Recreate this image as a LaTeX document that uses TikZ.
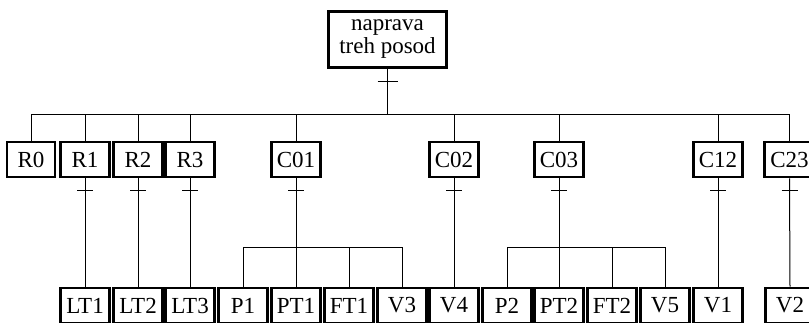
\documentclass[tikz,border=0pt]{standalone}
\usepackage{fontspec}
\setmainfont{Liberation Serif}
\begin{document}
\begin{tikzpicture}[x=1pt,y=-1pt,
  box/.style={draw,line width=2.6pt,rectangle,inner sep=0pt,minimum width=49.5pt,minimum height=35pt,font=\fontsize{23}{25}\selectfont},
  topbox/.style={box,minimum width=118pt,minimum height=56pt,align=center},
  conn/.style={line width=1pt},
  tick/.style={line width=1pt}]
\useasboundingbox (0,0) rectangle (809,322);
% top
\node[topbox] (top) at (387.5,39.5) {naprava\\[-2pt]treh posod};
% second row
\node[box,minimum width=48pt] (R0) at (31,159.5) {R0};
\node[box] (R1) at (85,159.5) {R1};
\node[box] (R2) at (138,159.5) {R2};
\node[box] (R3) at (190,159.5) {R3};
\node[box] (C01) at (296,159.5) {C01};
\node[box] (C02) at (454,159.5) {C02};
\node[box] (C03) at (559,159.5) {C03};
\node[box] (C12) at (718,159.5) {C12};
\node[box] (C23) at (789.5,159.5) {C23};
% bottom row
\node[box] (LT1) at (85,305.5) {LT1};
\node[box] (LT2) at (138,305.5) {LT2};
\node[box] (LT3) at (190,305.5) {LT3};
\node[box] (P1) at (243,305.5) {P1};
\node[box] (PT1) at (296,305.5) {PT1};
\node[box] (FT1) at (349,305.5) {FT1};
\node[box] (V3) at (402,305.5) {V3};
\node[box] (V4) at (454,305.5) {V4};
\node[box] (P2) at (507,305.5) {P2};
\node[box] (PT2) at (559,305.5) {PT2};
\node[box] (FT2) at (612,305.5) {FT2};
\node[box] (V5) at (665,305.5) {V5};
\node[box] (V1) at (718,305.5) {V1};
\node[box] (V2) at (790,305.5) {V2};
% buses
\coordinate (bus) at (0,114);
\coordinate (sb) at (0,247);
\draw[conn] (top.south) -- (top.south |- bus);
\draw[tick] ([xshift=-10pt,yshift=-13pt]top.south) -- ([xshift=10pt,yshift=-13pt]top.south);
\draw[conn] (R0.north) -- (R0.north |- bus) -- (C23.north |- bus) -- (C23.north);
\foreach \n in {R1,R2,R3,C01,C02,C03,C12}{
  \draw[conn] (\n.north) -- (\n.north |- bus);
}
% direct links
\foreach \a/\b in {R1/LT1,R2/LT2,R3/LT3,C02/V4,C12/V1,C23/V2}{
  \draw[conn] (\a.south) -- (\b.north);
}
% group links
\draw[conn] (C01.south) -- (C01.south |- sb);
\draw[conn] (P1.north) -- (P1.north |- sb) -- (V3.north |- sb) -- (V3.north);
\foreach \b in {PT1,FT1}{ \draw[conn] (\b.north) -- (\b.north |- sb); }
\draw[conn] (C03.south) -- (C03.south |- sb);
\draw[conn] (P2.north) -- (P2.north |- sb) -- (V5.north |- sb) -- (V5.north);
\foreach \b in {PT2,FT2}{ \draw[conn] (\b.north) -- (\b.north |- sb); }
% ticks
\foreach \n in {R1,R2,R3,C01,C02,C03,C12,C23}{
  \draw[tick] ([xshift=-8pt,yshift=-12.5pt]\n.south) -- ([xshift=8pt,yshift=-12.5pt]\n.south);
}
\end{tikzpicture}
\end{document}
